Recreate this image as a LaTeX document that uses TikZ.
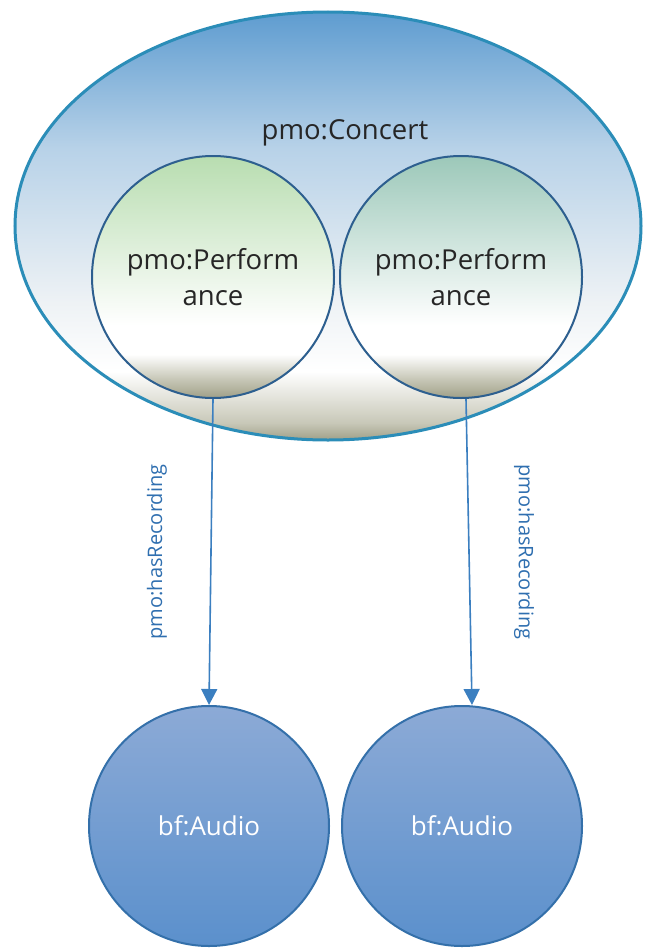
\documentclass[tikz,border=0pt]{standalone}
\usepackage{fontspec}
\setmainfont{Open Sans}
\usetikzlibrary{arrows.meta,shapes.geometric}
\definecolor{ConcertTop}{RGB}{94,156,208}
\definecolor{ConcertMid}{RGB}{184,210,232}
\definecolor{ConcertPale}{RGB}{238,242,245}
\definecolor{Band}{RGB}{200,200,184}
\definecolor{BandDark}{RGB}{160,160,136}
\definecolor{ConcertLine}{RGB}{43,141,184}
\definecolor{GreenTop}{RGB}{184,221,176}
\definecolor{TealTop}{RGB}{156,200,185}
\definecolor{PerfLine}{RGB}{45,95,143}
\definecolor{AudioTop}{RGB}{140,170,214}
\definecolor{AudioBot}{RGB}{91,144,204}
\definecolor{AudioLine}{RGB}{52,112,170}
\definecolor{ArrowBlue}{RGB}{59,127,192}
\definecolor{LabelBlue}{RGB}{47,111,176}
\definecolor{TextGray}{RGB}{38,38,38}
\pgfdeclareverticalshading{concertshade}{100bp}{
  color(0bp)=(BandDark); color(25bp)=(BandDark); color(27bp)=(Band);
  color(33bp)=(white); color(41bp)=(ConcertPale); color(59bp)=(ConcertMid);
  color(75bp)=(ConcertTop); color(100bp)=(ConcertTop)}
\pgfdeclareverticalshading{greenshade}{100bp}{
  color(0bp)=(BandDark); color(25bp)=(BandDark); color(29bp)=(Band);
  color(34bp)=(white); color(40bp)=(white); color(75bp)=(GreenTop);
  color(100bp)=(GreenTop)}
\pgfdeclareverticalshading{tealshade}{100bp}{
  color(0bp)=(BandDark); color(25bp)=(BandDark); color(29bp)=(Band);
  color(34bp)=(white); color(40bp)=(white); color(75bp)=(TealTop);
  color(100bp)=(TealTop)}

\begin{document}
\begin{tikzpicture}[
  x=1pt, y=-1pt,
  concert/.style={ellipse, draw=ConcertLine, line width=3pt,
    shading=concertshade, minimum width=626pt, minimum height=428pt,
    inner sep=0pt},
  perf/.style={circle, draw=PerfLine, line width=2pt, minimum size=242pt,
    inner sep=0pt, align=center, text=TextGray,
    font=\fontsize{27.5}{36}\selectfont},
  audio/.style={circle, draw=AudioLine, line width=2pt, minimum size=240pt,
    inner sep=0pt, top color=AudioTop, bottom color=AudioBot,
    text=white, font=\fontsize{26}{30}\selectfont},
  rel/.style={draw=ArrowBlue, line width=1.6pt,
    -{Triangle[length=16pt,width=16pt]}},
  rellabel/.style={text=LabelBlue, font=\fontsize{20}{24}\selectfont}
  ]
\useasboundingbox[fill=white] (0,0) rectangle (654,950);
\node[concert] (concert) at (328,226) {};
\node[text=TextGray, font=\fontsize{27.5}{32}\selectfont]
  (concertlabel) at (345,133) {pmo:Concert};
\node[perf, shading=greenshade] (perf1) at (213,277) {pmo:Perform\\ance};
\node[perf, shading=tealshade] (perf2) at (461,277) {pmo:Perform\\ance};
\node[audio] (audio1) at (209,826) {bf:Audio};
\node[audio] (audio2) at (462,826) {bf:Audio};
% recordings
\draw[rel] (perf1.south) -- (audio1.north)
  node[rellabel, midway, xshift=-54pt, rotate=90] {pmo:hasRecording};
\draw[rel] ([xshift=5pt]perf2.south) -- ([xshift=10pt]audio2.north)
  node[rellabel, midway, xshift=55pt, rotate=-90] {pmo:hasRecording};
\end{tikzpicture}
\end{document}
